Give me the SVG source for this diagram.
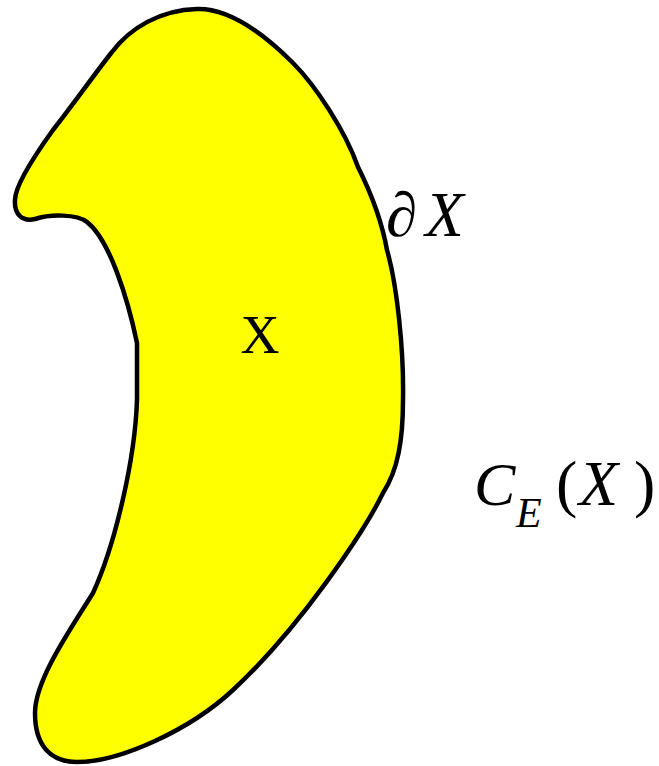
<svg xmlns="http://www.w3.org/2000/svg" width="659" height="766" viewBox="0 0 659 766">
<style>
.shape{fill:#ffff00;stroke:#000;stroke-width:4.5;stroke-linejoin:round}
.t{font-family:"Liberation Serif","Times New Roman",serif;fill:#000}
.i{font-style:italic}
</style>
<rect width="659" height="766" fill="#fff"/>
<g id="region-X">
<path class="shape" d="M197,9 C230,8 265,35 293,63 C315,85 345,130 358,167 C372,195 382,222 387,250 C397,285 404,350 403,400 C403,440 398,470 383,493 C365,530 300,628 233,690 C190,730 120,762 77,762 C50,762 35,745 35,713 C35,680 70,630 93,593 C115,545 135,460 137,400 L137,343 C128,300 110,240 87,222 C77,214 50,214 35,219 C22,222 14,214 15,200 C15,185 35,155 53,130 C75,102 96,72 112,52 C130,28 160,10 197,9 Z"/>
<text class="t" x="260" y="353" font-size="54" text-anchor="middle">X</text>
</g>
<g id="label-boundary">
<text class="t i" x="386" y="236" font-size="63">∂<tspan dx="8">X</tspan></text>
</g>
<g id="label-CE">
<text class="t i" x="474" y="505" font-size="62">C</text>
<text class="t i" x="516" y="527" font-size="42">E</text>
<text class="t" x="556" y="505" font-size="64">(</text>
<text class="t i" x="579" y="505" font-size="64">X</text>
<text class="t" x="634" y="505" font-size="64">)</text>
</g>
</svg>
